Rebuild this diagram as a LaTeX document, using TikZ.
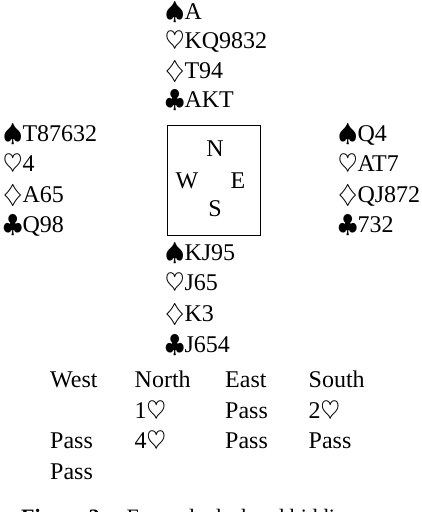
\documentclass[tikz,border=0pt]{standalone}
\usepackage{fontspec}
\setmainfont{Liberation Serif}
\newcommand{\Sp}{$\spadesuit$}
\newcommand{\Ht}{$\heartsuit$}
\newcommand{\Di}{$\diamondsuit$}
\newcommand{\Cl}{$\clubsuit$}
\begin{document}
\begin{tikzpicture}[x=1pt,y=-1pt,
  txt/.style={inner sep=0pt,anchor=base west,font=\fontsize{24}{30}\selectfont},
  ctr/.style={inner sep=0pt,anchor=base,font=\fontsize{24}{30}\selectfont},
  boxline/.style={draw=black,line width=0.9pt}]
\useasboundingbox (0,0) rectangle (422,512);
% North
\node[txt] (n1) at (165,19) {\Sp A};
\node[txt] (n2) at (165,48.5) {\Ht KQ9832};
\node[txt] (n3) at (165,78) {\Di T94};
\node[txt] (n4) at (165,107.5) {\Cl AKT};
% West
\node[txt] (w1) at (3,141) {\Sp T87632};
\node[txt] (w2) at (3,171.5) {\Ht 4};
\node[txt] (w3) at (3,202) {\Di A65};
\node[txt] (w4) at (3,232.5) {\Cl Q98};
% East
\node[txt] (e1) at (338,141) {\Sp Q4};
\node[txt] (e2) at (338,171.5) {\Ht AT7};
\node[txt] (e3) at (338,202) {\Di QJ872};
\node[txt] (e4) at (338,232.5) {\Cl 732};
% South
\node[txt] (s1) at (165,260) {\Sp KJ95};
\node[txt] (s2) at (165,290.5) {\Ht J65};
\node[txt] (s3) at (165,321.5) {\Di K3};
\node[txt] (s4) at (165,352.5) {\Cl J654};
% Compass box
\draw[boxline] (167.5,125.5) rectangle (260.5,235.5);
\node[ctr] (cN) at (215,156) {N};
\node[ctr] (cW) at (187,188) {W};
\node[ctr] (cE) at (238,188) {E};
\node[ctr] (cS) at (215,216.5) {S};
% Bidding
\node[txt] (bW) at (50,387) {West};
\node[txt] (bN) at (134.5,387) {North};
\node[txt] (bE) at (225,387) {East};
\node[txt] (bS) at (308.5,387) {South};
\node[txt] (b1) at (134.5,418) {1\Ht};
\node[txt] (b2) at (225,418) {Pass};
\node[txt] (b3) at (308.5,418) {2\Ht};
\node[txt] (b4) at (50,448.5) {Pass};
\node[txt] (b5) at (134.5,448.5) {4\Ht};
\node[txt] (b6) at (225,448.5) {Pass};
\node[txt] (b7) at (308.5,448.5) {Pass};
\node[txt] (b8) at (50,479) {Pass};
% Caption (clipped)
\begin{scope}
\clip (0,0) rectangle (422,512);
\node[inner sep=0pt,anchor=base west,font=\fontsize{22}{26}\selectfont] (cap) at (21,524.5) {\textbf{Figure 2:}\hspace{0.9em}Example deal and bidding};
\end{scope}
\end{tikzpicture}
\end{document}
